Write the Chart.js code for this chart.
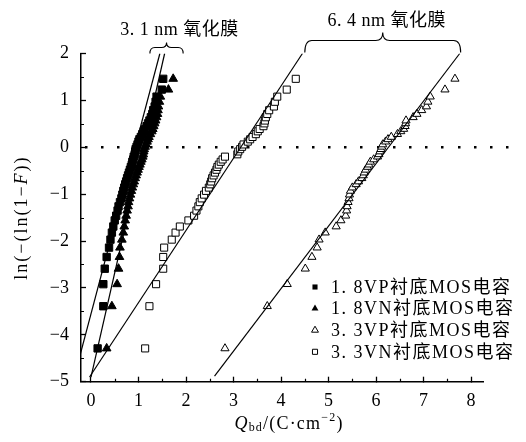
<!DOCTYPE html>
<html>
<head>
<meta charset="utf-8">
<script src="https://cdn.jsdelivr.net/npm/chart.js"></script>
<style>
	body { margin: 0; background: #fff; }
	#wrap { width: 526px; height: 442px; }
</style>
</head>
<body>
<div id="wrap"><canvas id="myChart" width="526" height="442"></canvas></div>
<script>
// ln(-ln(1-F)) of every rank, shared by all four samples
var rankY = [-4.29, -3.39, -2.92, -2.59, -2.34, -2.14, -1.97, -1.82, -1.69, -1.56,
	-1.46, -1.35, -1.26, -1.17, -1.09, -1.01, -0.93, -0.86, -0.79, -0.73,
	-0.66, -0.60, -0.54, -0.48, -0.42, -0.37, -0.31, -0.26, -0.20, -0.15,
	-0.09, -0.04, 0.01, 0.06, 0.12, 0.17, 0.22, 0.28, 0.34, 0.39,
	0.45, 0.51, 0.57, 0.64, 0.71, 0.79, 0.87, 0.97, 1.08, 1.23, 1.46];

// Qbd of each sample (C/cm2)
var vp18X = [0.14, 0.26, 0.26, 0.29, 0.33, 0.38, 0.41, 0.44, 0.47, 0.50,
	0.53, 0.56, 0.58, 0.61, 0.64, 0.66, 0.68, 0.70, 0.72, 0.74,
	0.76, 0.78, 0.80, 0.82, 0.84, 0.86, 0.87, 0.89, 0.90, 0.92,
	0.93, 0.94, 0.96, 0.98, 1.00, 1.02, 1.05, 1.08, 1.11, 1.14,
	1.17, 1.20, 1.23, 1.26, 1.29, 1.31, 1.34, 1.36, 1.38, 1.49, 1.52];
var vn18X = [0.33, 0.44, 0.55, 0.58, 0.60, 0.61, 0.65, 0.68, 0.70, 0.72,
	0.74, 0.76, 0.78, 0.79, 0.81, 0.83, 0.85, 0.87, 0.89, 0.91,
	0.93, 0.95, 0.97, 0.99, 1.01, 1.03, 1.05, 1.07, 1.09, 1.10,
	1.11, 1.12, 1.14, 1.16, 1.18, 1.20, 1.22, 1.25, 1.28, 1.30,
	1.32, 1.34, 1.36, 1.38, 1.40, 1.41, 1.42, 1.44, 1.46, 1.63, 1.73];
var vp33X = [2.82, 3.71, 4.13, 4.51, 4.65, 4.76, 4.80, 4.93, 5.16, 5.26,
	5.36, 5.38, 5.39, 5.41, 5.43, 5.44, 5.46, 5.50, 5.58, 5.63,
	5.70, 5.73, 5.75, 5.78, 5.82, 5.85, 5.88, 5.95, 6.03, 6.06,
	6.08, 6.10, 6.12, 6.14, 6.20, 6.25, 6.32, 6.45, 6.52, 6.58,
	6.61, 6.62, 6.63, 6.78, 6.86, 6.96, 7.06, 7.09, 7.14, 7.45, 7.66];
var vn33X = [1.14, 1.23, 1.37, 1.52, 1.52, 1.54, 1.70, 1.78, 1.87, 2.05,
	2.17, 2.22, 2.26, 2.29, 2.33, 2.38, 2.42, 2.48, 2.51, 2.53,
	2.55, 2.58, 2.61, 2.64, 2.66, 2.69, 2.73, 2.77, 2.82, 3.08,
	3.10, 3.14, 3.18, 3.21, 3.30, 3.35, 3.40, 3.47, 3.51, 3.55,
	3.63, 3.65, 3.66, 3.68, 3.71, 3.75, 3.85, 3.87, 3.92, 4.12, 4.31];

// fitted lines, two end points each
var fitVp18X = [-0.25, 1.45], fitVp18Y = [-4.51, 2.0];
var fitVn18X = [0.0, 1.55], fitVn18Y = [-4.90, 2.0];
var fitVp33X = [2.60, 7.76], fitVp33Y = [-4.88, 2.0];
var fitVn33X = [-0.03, 4.45], fitVn33Y = [-4.90, 2.0];

var legendLabels = ["1. 8VP衬底MOS电容", "1. 8VN衬底MOS电容", "3. 3VP衬底MOS电容", "3. 3VN衬底MOS电容"];
var oxideLabels = ["3. 1 nm 氧化膜", "6. 4 nm 氧化膜"];
var oxideSpans = [[1.24, 1.94], [4.50, 7.78]];

var serif = '"Liberation Serif", "Noto Sans CJK SC", serif';

function pts(xs, ys){
	var out = [];
	for(var i = 0; i < xs.length; i++)
		out.push({x: xs[i], y: ys[i]});
	return out;
}

function markerSet(label, xs, style, filled, r){
	return {
		label: label,
		data: pts(xs, rankY),
		pointStyle: style,
		pointRadius: r,
		pointBorderWidth: 1,
		pointBorderColor: "#000",
		pointBackgroundColor: filled ? "#000" : "#fff",
		order: 1
	};
}

function lineSet(xs, ys){
	return {
		data: pts(xs, ys),
		showLine: true,
		borderColor: "#000",
		borderWidth: 1.2,
		pointRadius: 0,
		order: 0
	};
}

function tickText(v){
	return v < 0 ? "\u2212" + Math.abs(v) : String(v);
}

// draws text pieces one after the other, centred on x
function richText(ctx, parts, x, y, spacing){
	var total = 0;
	ctx.letterSpacing = spacing + "px";
	parts.forEach(function(p){ ctx.font = p.font; p.w = ctx.measureText(p.t).width; total += p.w; });
	var cx = x - total / 2;
	parts.forEach(function(p){
		ctx.font = p.font;
		ctx.fillText(p.t, cx, y + (p.dy || 0));
		cx += p.w;
	});
}

function brace(ctx, x1, x2, xm, yEnd, yMid, yTip, r){
	ctx.beginPath();
	ctx.moveTo(x1, yEnd);
	ctx.quadraticCurveTo(x1, yMid, x1 + r, yMid);
	ctx.lineTo(xm - r, yMid);
	ctx.quadraticCurveTo(xm, yMid, xm, yTip);
	ctx.quadraticCurveTo(xm, yMid, xm + r, yMid);
	ctx.lineTo(x2 - r, yMid);
	ctx.quadraticCurveTo(x2, yMid, x2, yEnd);
	ctx.stroke();
}

var extras = {
	id: "extras",
	beforeDatasetsDraw: function(chart){
		var ctx = chart.ctx, xs = chart.scales.x, ys = chart.scales.y;
		var y0 = Math.round(ys.getPixelForValue(0));
		ctx.save();
		ctx.fillStyle = "#000";
		for(var px = xs.left + 5; px < xs.right + 30; px += 16.2)
			ctx.fillRect(Math.round(px) - 1, y0 - 1, 2.5, 2.5);
		ctx.restore();
	},
	afterDraw: function(chart){
		var ctx = chart.ctx, xs = chart.scales.x, ys = chart.scales.y;
		var a = chart.chartArea;
		ctx.save();
		ctx.strokeStyle = "#000";
		ctx.fillStyle = "#000";

		// minor ticks
		ctx.lineWidth = 1.2;
		ctx.beginPath();
		for(var v = -4.5; v < 2; v += 1){
			var py = Math.round(ys.getPixelForValue(v)) + 0.5;
			ctx.moveTo(a.left, py); ctx.lineTo(a.left + 3, py);
		}
		for(var u = 0.5; u < 8.25; u += 1){
			var px = Math.round(xs.getPixelForValue(u)) + 0.5;
			ctx.moveTo(px, a.bottom); ctx.lineTo(px, a.bottom - 3);
		}
		ctx.stroke();

		// braces over the oxide groups
		ctx.lineWidth = 1.1;
		var s0 = oxideSpans[0], s1 = oxideSpans[1];
		var b1a = xs.getPixelForValue(s0[0]), b1b = xs.getPixelForValue(s0[1]);
		var b2a = xs.getPixelForValue(s1[0]), b2b = xs.getPixelForValue(s1[1]);
		brace(ctx, b1a, b1b, (b1a + b1b) / 2, a.top, a.top - 6, a.top - 11, 5);
		brace(ctx, b2a, b2b, (b2a + b2b) / 2, a.top - 1, a.top - 13, a.top - 21, 7);

		ctx.textBaseline = "middle";
		ctx.textAlign = "left";
		richText(ctx, [{t: oxideLabels[0], font: "18px " + serif}], (b1a + b1b) / 2 + 13, a.top - 23, 0.5);
		richText(ctx, [{t: oxideLabels[1], font: "18px " + serif}], (b2a + b2b) / 2 + 4, a.top - 32, 0.5);

		// x axis title
		richText(ctx, [
			{t: "Q", font: "italic 18px " + serif},
			{t: "bd", font: "12px " + serif, dy: 4},
			{t: "/(C\u00b7cm", font: "18px " + serif},
			{t: "\u22122", font: "12px " + serif, dy: -6},
			{t: ")", font: "18px " + serif}
		], (a.left + a.right) / 2 + 7, 424, 1.2);

		// y axis title
		ctx.save();
		ctx.translate(22, (a.top + a.bottom) / 2 + 0);
		ctx.rotate(-Math.PI / 2);
		richText(ctx, [
			{t: "ln(\u2212(ln(1\u2212", font: "18px " + serif},
			{t: "F", font: "italic 18px " + serif},
			{t: "))", font: "18px " + serif}
		], 0, 0, 2);
		ctx.restore();

		// legend
		var styles = [["rect", true, 3.6], ["triangle", true, 4.0], ["triangle", false, 4.0], ["rect", false, 3.6]];
		ctx.letterSpacing = "1.5px";
		ctx.font = "18px " + serif;
		for(var i = 0; i < legendLabels.length; i++){
			var ly = 287 + i * 21.6, lx = 315;
			var st = styles[i];
			ctx.beginPath();
			if(st[0] == "rect"){
				var h = st[2] * Math.SQRT1_2;
				ctx.rect(lx - h, ly - h, 2 * h, 2 * h);
			} else {
				var r = st[2];
				ctx.moveTo(lx, ly - r);
				ctx.lineTo(lx + r * 0.866, ly + r * 0.5);
				ctx.lineTo(lx - r * 0.866, ly + r * 0.5);
				ctx.closePath();
			}
			ctx.lineWidth = 1;
			if(st[1]) ctx.fill(); else ctx.stroke();
			ctx.fillText(legendLabels[i], 331, ly + 1);
		}
		ctx.restore();
	}
};

var ctx = document.getElementById("myChart");
var mChart = new Chart(ctx, {
	type: "scatter",
	data: {
		datasets: [
			markerSet(legendLabels[0], vp18X, "rect", true, 5.2),
			markerSet(legendLabels[1], vn18X, "triangle", true, 5.0),
			markerSet(legendLabels[2], vp33X, "triangle", false, 4.7),
			markerSet(legendLabels[3], vn33X, "rect", false, 5.0),
			lineSet(fitVp18X, fitVp18Y),
			lineSet(fitVn18X, fitVn18Y),
			lineSet(fitVp33X, fitVp33Y),
			lineSet(fitVn33X, fitVn33Y)
		]
	},
	options: {
		responsive: false,
		animation: false,
		layout: { padding: { left: 0, top: 53.5, right: 43, bottom: 0 } },
		plugins: {
			legend: { display: false },
			tooltip: { enabled: false }
		},
		scales: {
			x: {
				type: "linear",
				position: "bottom",
				min: -0.21,
				max: 8.25,
				afterFit: function(s){ s.height = 60.3; },
				border: { display: true, color: "#000", width: 1.5 },
				grid: { drawOnChartArea: false, drawTicks: true, tickLength: -5, tickColor: "#000", tickWidth: 1.3 },
				ticks: { stepSize: 1, includeBounds: false, autoSkip: false, maxRotation: 0, padding: 14,
					color: "#000", font: { family: serif, size: 18 }, callback: tickText }
			},
			y: {
				min: -5,
				max: 2,
				afterFit: function(s){ s.width = 81; },
				border: { display: true, color: "#000", width: 1.5 },
				grid: { drawOnChartArea: false, drawTicks: true, tickLength: -5, tickColor: "#000", tickWidth: 1.3 },
				ticks: { stepSize: 1, includeBounds: false, autoSkip: false, padding: 17,
					color: "#000", font: { family: serif, size: 18 }, callback: tickText }
			}
		}
	},
	plugins: [extras]
});
</script>
</body>
</html>
